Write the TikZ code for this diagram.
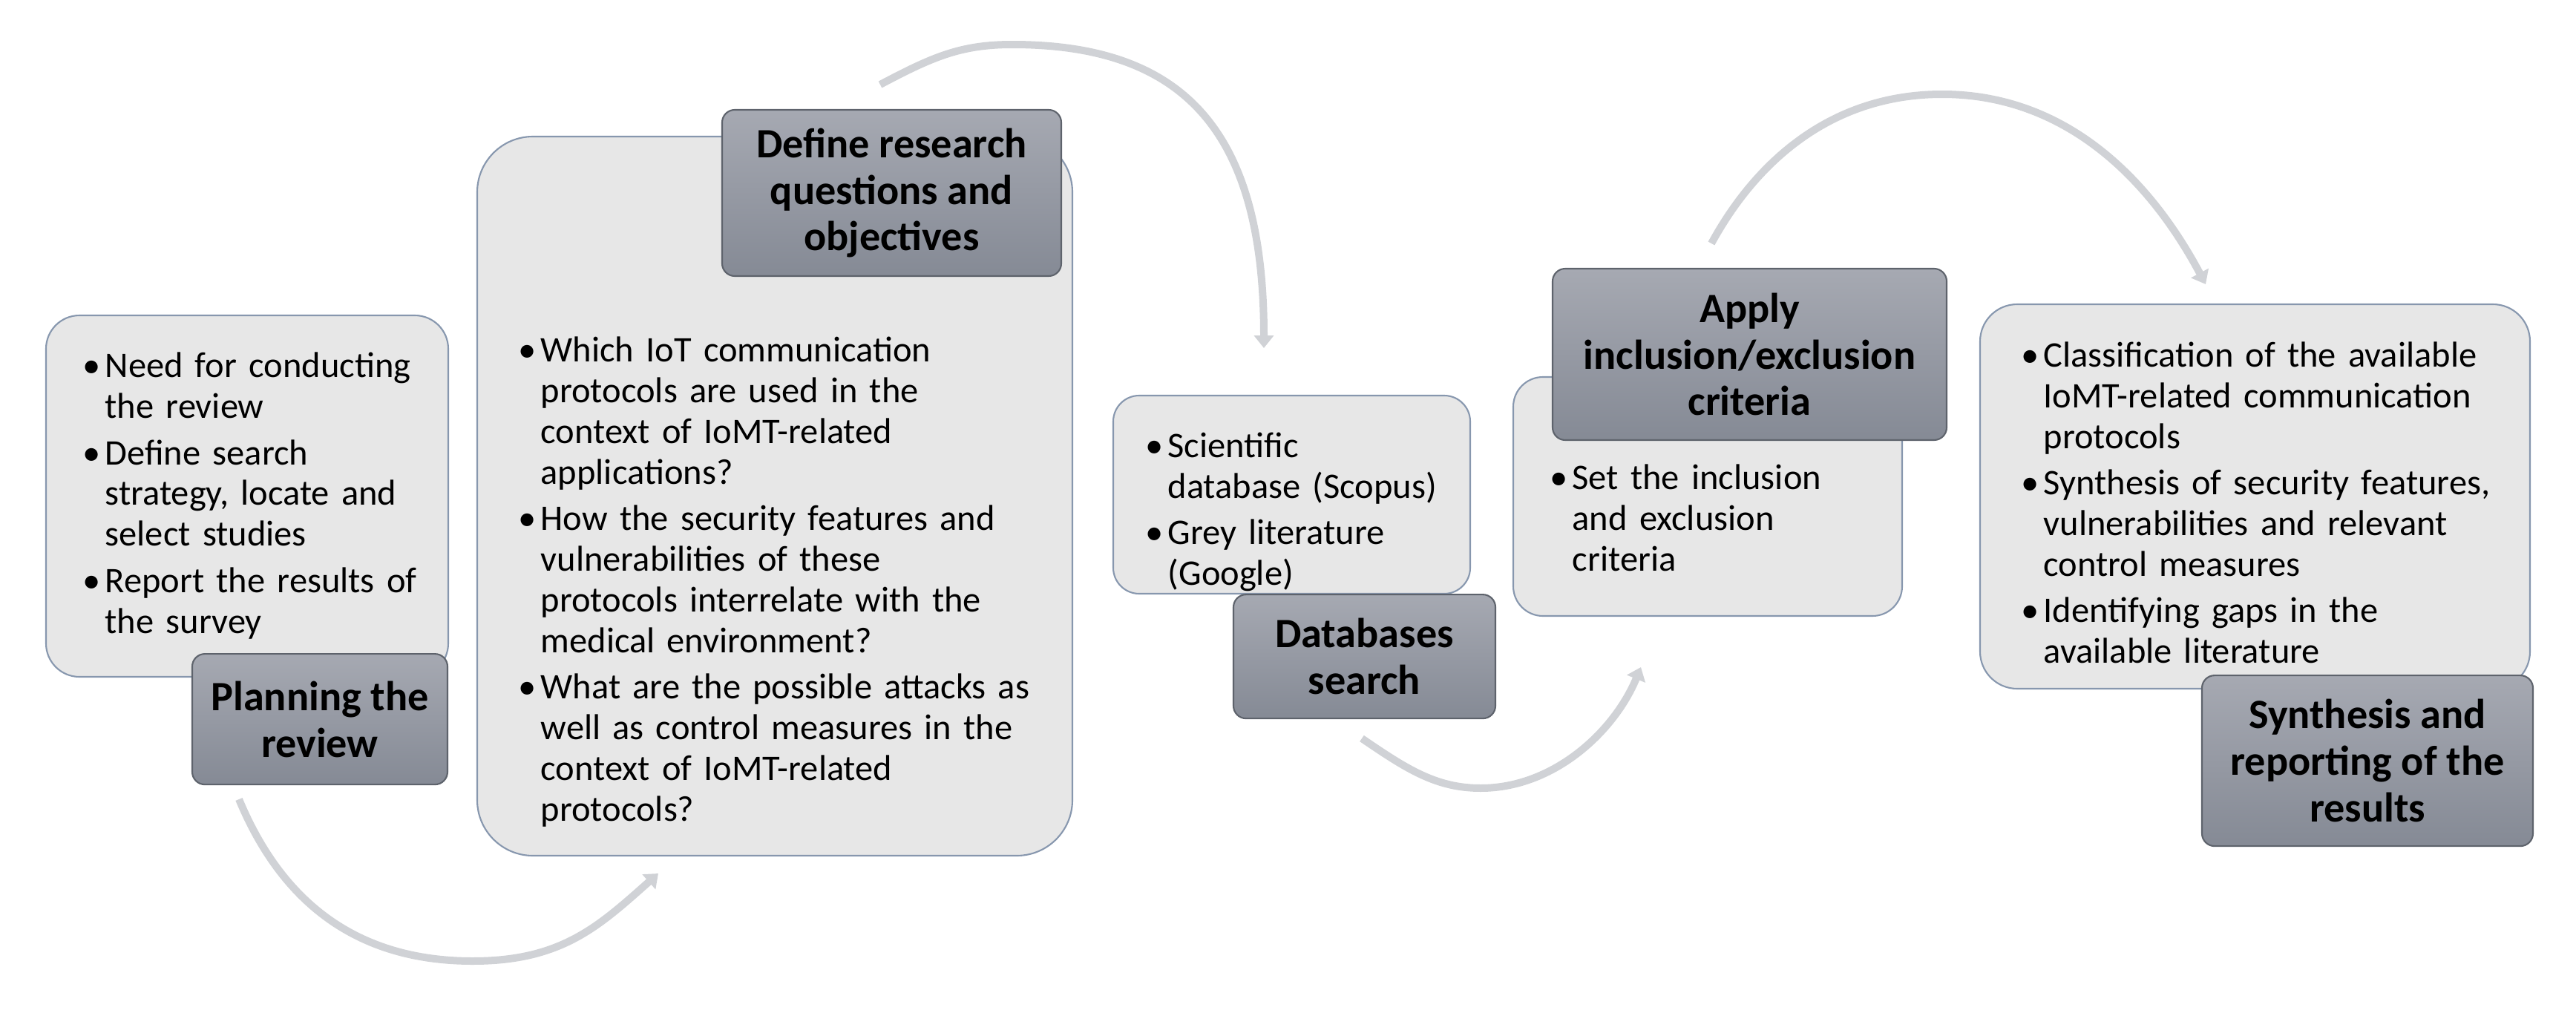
\documentclass[tikz,border=0pt]{standalone}
\usepackage{fontspec}
\setmainfont{Carlito}
\usetikzlibrary{arrows.meta}
\definecolor{cardfill}{HTML}{E7E7E7}
\definecolor{cardline}{HTML}{8797AE}
\definecolor{headtop}{HTML}{A6A9B2}
\definecolor{headbot}{HTML}{858A95}
\definecolor{headline}{HTML}{5E636C}
\definecolor{flowgrey}{HTML}{D0D2D6}
\newcommand\bitem[1]{\par\noindent\hangindent=0.62em\hangafter=1\makebox[0.62em][l]{\textbullet}#1\par}

\begin{document}
\begin{tikzpicture}[
  card/.style={draw=cardline, fill=cardfill, line width=0.6pt},
  head/.style={draw=headline, line width=0.6pt, rounded corners=1.7mm, top color=headtop, bottom color=headbot,
    align=center, inner sep=0pt, font=\fontsize{16}{17.9}\selectfont\bfseries},
  txt/.style={align=left, inner sep=0pt, anchor=west,
    font=\fontsize{13.8}{15.6}\selectfont\setlength{\parskip}{2.2pt}},
  flow/.style={draw=flowgrey, line width=1mm, ->},
  >={Triangle[width=2.6mm,length=1.7mm]}
]
\useasboundingbox (0,0) rectangle (34.71,-13.65);

\node[card, rounded corners=4.5mm, minimum width=5.42cm, minimum height=4.87cm] (b1) at (3.33,-6.685) {};
\node[txt, text width=4.8cm] (t1) at ([xshift=5mm,yshift=1.5mm]b1.west)
  {\bitem{Need for conducting\newline the review}
   \bitem{Define search\newline strategy, locate and\newline select studies}
   \bitem{Report the results of\newline the survey}};
\node[head, anchor=north east, minimum width=3.44cm, minimum height=1.76cm] (h1) at ([xshift=-0.1mm,yshift=3.3mm]b1.south east)
  {Planning the\\review};

\node[card, rounded corners=7.5mm, minimum width=8.02cm, minimum height=9.69cm] (b2) at (10.44,-6.685) {};
\node[txt, text width=7.3cm] (t2) at ([xshift=5.6mm,yshift=-10.1mm]b2.west)
  {\bitem{Which IoT communication\newline protocols are used in the\newline context of IoMT-related\newline applications?}
   \bitem{How the security features and\newline vulnerabilities of these\newline protocols interrelate with the\newline medical environment?}
   \bitem{What are the possible attacks as\newline well as control measures in the\newline context of IoMT-related\newline protocols?}};
\node[head, anchor=north east, minimum width=4.57cm, minimum height=2.24cm] (h2) at ([xshift=-1.5mm,yshift=3.6mm]b2.north east)
  {Define research\\questions and\\objectives};

\node[card, rounded corners=3.5mm, minimum width=4.81cm, minimum height=2.67cm] (b3) at (17.405,-6.665) {};
\node[txt, text width=4.2cm] (t3) at ([xshift=4.4mm,yshift=-0.9mm]b3.west)
  {\bitem{Scientific\newline database (Scopus)}
   \bitem{Grey literature\newline (Google)}};
\node[head, anchor=north east, minimum width=3.53cm, minimum height=1.67cm] (h3) at ([xshift=3.4mm,yshift=0.1mm]b3.south east)
  {Databases\\search};

\node[card, rounded corners=4mm, minimum width=5.24cm, minimum height=3.22cm] (b4) at (23.01,-6.69) {};
\node[txt, text width=4.6cm] (t4) at ([xshift=5mm,yshift=-1.45mm]b4.west)
  {\bitem{Set the inclusion\newline and exclusion\newline criteria}};
\node[head, anchor=north west, minimum width=5.31cm, minimum height=2.31cm] (h4) at ([xshift=5.3mm,yshift=14.6mm]b4.north west)
  {Apply\\inclusion/exclusion\\criteria};

\node[card, rounded corners=5mm, minimum width=7.41cm, minimum height=5.18cm] (b5) at (30.385,-6.69) {};
\node[txt, text width=6.7cm] (t5) at ([xshift=5.6mm,yshift=0.6mm]b5.west)
  {\bitem{Classification of the available\newline IoMT-related communication\newline protocols}
   \bitem{Synthesis of security features,\newline vulnerabilities and relevant\newline control measures}
   \bitem{Identifying gaps in the\newline available literature}};
\node[head, anchor=north east, minimum width=4.46cm, minimum height=2.30cm] (h5) at ([xshift=0.4mm,yshift=2mm]b5.south east)
  {Synthesis and\\reporting of the\\results};

\coordinate (a1s) at (3.22,-10.77);
\coordinate (a1m) at (6.37,-12.95);
\coordinate (a1e) at (8.87,-11.77);
\coordinate (a2s) at (11.86,-1.14);
\coordinate (a2m) at (13.64,-0.60);
\coordinate (a2e) at (17.03,-4.69);
\coordinate (a3s) at (18.35,-9.95);
\coordinate (a3m) at (19.95,-10.62);
\coordinate (a3e) at (22.11,-8.99);
\coordinate (a4s) at (23.06,-3.28);
\coordinate (a4m) at (26.17,-1.27);
\coordinate (a4e) at (29.72,-3.83);

\draw[flow] (a1s) .. controls (3.72,-11.97) and (4.63,-12.95) .. (a1m) .. controls (7.57,-12.95) and (8.07,-12.48) .. (a1e);
\draw[flow] (a2s) .. controls (12.56,-0.77) and (12.94,-0.60) .. (a2m) .. controls (16.01,-0.60) and (17.03,-1.83) .. (a2e);
\draw[flow] (a3s) .. controls (18.95,-10.36) and (19.35,-10.62) .. (a3m) .. controls (20.95,-10.62) and (21.76,-9.84) .. (a3e);
\draw[flow] (a4s) .. controls (23.66,-2.18) and (24.67,-1.27) .. (a4m) .. controls (27.77,-1.27) and (28.92,-2.33) .. (a4e);
\end{tikzpicture}
\end{document}
